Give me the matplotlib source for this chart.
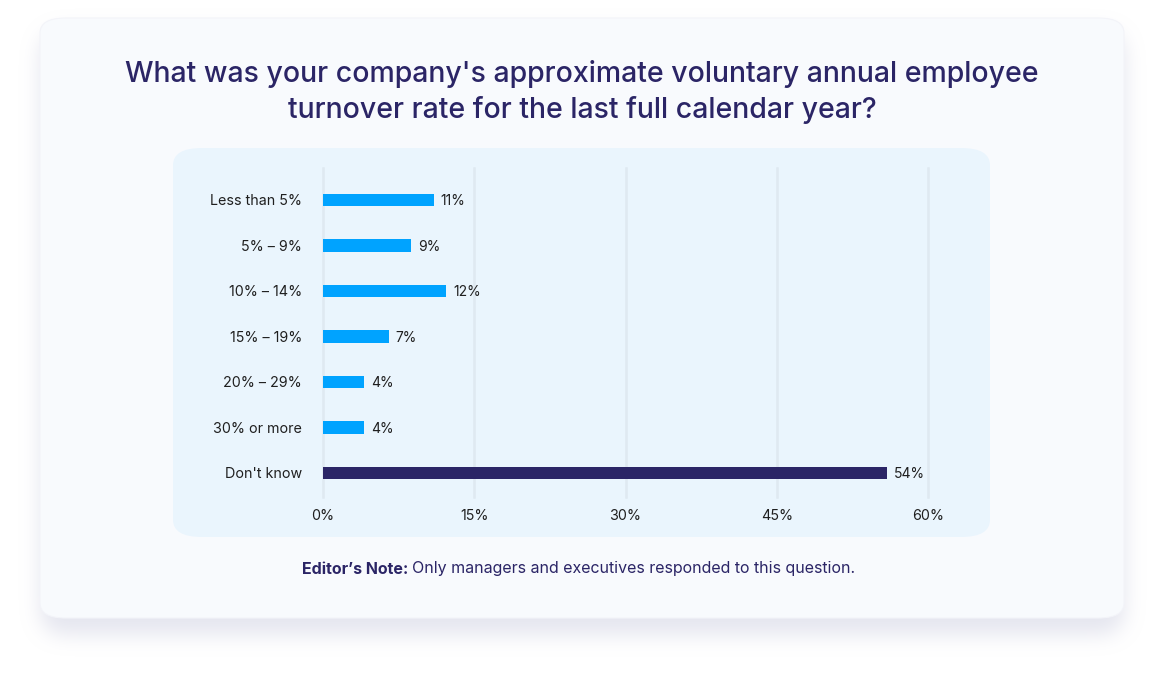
import matplotlib
matplotlib.use("Agg")
import numpy as np
import matplotlib.pyplot as plt
from matplotlib.patches import FancyBboxPatch

plt.rcParams['font.family'] = ['Inter', 'DejaVu Sans']

categories = ["Less than 5%", "5% – 9%", "10% – 14%", "15% – 19%", "20% – 29%", "30% or more", "Don't know"]
values = [11, 8.7, 12.2, 6.5, 4.1, 4.1, 55.9]
value_labels = ["11%", "9%", "12%", "7%", "4%", "4%", "54%"]
colors = ["#00a3ff"] * 6 + ["#2b2566"]
xticks = [0, 15, 30, 45, 60]
xtick_labels = ["0%", "15%", "30%", "45%", "60%"]
title = "What was your company's approximate voluntary annual employee\nturnover rate for the last full calendar year?"

W, H = 1164, 683
fig = plt.figure(figsize=(W / 100, H / 100), dpi=100)
fig.patch.set_facecolor("white")

def fx(px):
    return px / W

def fy(py):
    return 1 - py / H

# soft blurred card shadow
yy, xx = np.mgrid[0:H, 0:W]
x0, x1, y0, y1, r = 40, 1124, 30, 634, 22
cx = np.clip(xx, x0 + r, x1 - r)
cy = np.clip(yy, y0 + r, y1 - r)
mask = (((xx - cx) ** 2 + (yy - cy) ** 2) <= r * r).astype(float)
def blur(a, k, axis):
    kern = np.ones(k) / k
    return np.apply_along_axis(lambda m: np.convolve(m, kern, mode="same"), axis, a)
for _ in range(3):
    mask = blur(mask, 19, 0)
    mask = blur(mask, 19, 1)
shadow = np.zeros((H, W, 4))
shadow[..., 0] = 0.80
shadow[..., 1] = 0.81
shadow[..., 2] = 0.88
shadow[..., 3] = mask * 0.5
fig.figimage(shadow, 0, 0, origin="upper", zorder=0)

card = FancyBboxPatch((fx(40), fy(618)), fx(1084), 600 / H,
                      boxstyle="round,pad=0,rounding_size=0.022", transform=fig.transFigure,
                      facecolor="#f8fafd", edgecolor="#f3f4f9", linewidth=0.8, zorder=1)
fig.patches.append(card)

panel = FancyBboxPatch((fx(173), fy(537)), fx(817), 389 / H,
                       boxstyle="round,pad=0,rounding_size=0.025", transform=fig.transFigure,
                       facecolor="#eaf5fd", edgecolor="none", zorder=2)
fig.patches.append(panel)

fig.text(fx(582), fy(92), title, ha="center", va="center", fontsize=20.5, fontweight="medium",
         color="#2b2566", linespacing=1.38, zorder=5)

t1 = fig.text(fx(302), fy(569), "Editor’s Note:", ha="left", va="center", fontsize=11.5,
              color="#2b2566", fontweight="bold", zorder=5)
fig.canvas.draw()
bb = t1.get_window_extent()
fig.text((bb.x1 + 4) / W, fy(569), "Only managers and executives responded to this question.",
         ha="left", va="center", fontsize=11.5, color="#2b2566", zorder=5)

ax = fig.add_axes([fx(323), fy(497), fx(928 - 323), (497 - 168) / H])
ax.set_facecolor("none")
ax.set_zorder(3)
ypos = list(range(len(categories)))
ax.barh(ypos, values, height=0.27, color=colors, zorder=3)
ax.set_xlim(0, 60)
ax.set_ylim(6.53, -0.70)
ax.set_xticks(xticks)
ax.set_xticklabels(xtick_labels)
ax.set_yticks(ypos)
ax.set_yticklabels(categories)
ax.tick_params(axis="both", length=0, labelsize=10.3, colors="#1f1f1f")
ax.tick_params(axis="y", pad=15)
ax.tick_params(axis="x", pad=9)
for x in xticks:
    ax.axvline(x, color="#dfe9f1", linewidth=1.8, zorder=1, clip_on=False)
for s in ax.spines.values():
    s.set_visible(False)
for y, v, lab in zip(ypos, values, value_labels):
    ax.annotate(lab, (v, y), xytext=(5, -1), textcoords="offset points", ha="left", va="center",
                fontsize=10, color="#1f1f1f", zorder=4)

fig.savefig("out.png", dpi=100, facecolor="white")
